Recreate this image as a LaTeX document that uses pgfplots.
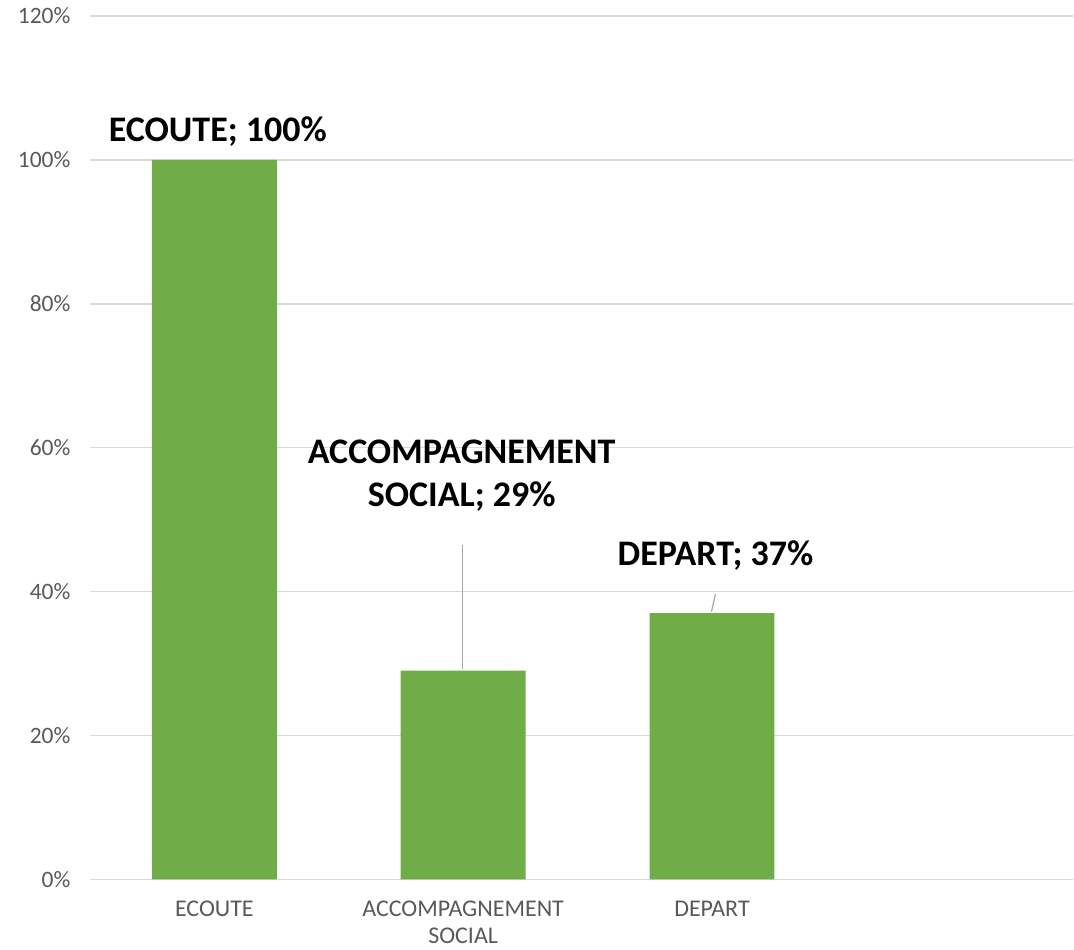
\documentclass[border=0pt]{standalone}
\usepackage{pgfplots}
\pgfplotsset{compat=1.18}
\usepackage{fontspec}
\setmainfont{Carlito}
\definecolor{barg}{HTML}{70AD47}
\definecolor{gridg}{HTML}{D9D9D9}
\definecolor{tickg}{HTML}{595959}
\begin{document}
\begin{tikzpicture}[x=1pt,y=1pt]
\begin{axis}[
  at={(0,0)}, anchor=south west,
  scale only axis, width=984pt, height=864pt,
  xmin=-0.5, xmax=3.452, ymin=0, ymax=120,
  ybar, bar width=125pt,
  axis line style={draw=none},
  axis x line*=bottom,
  x axis line style={draw=gridg, line width=1.5pt},
  ytick={0,20,40,60,80,100,120},
  yticklabels={0\%,20\%,40\%,60\%,80\%,100\%,120\%},
  xtick={0,1,2},
  xticklabels={ECOUTE,{ACCOMPAGNEMENT\\SOCIAL},DEPART},
  major tick length=0pt,
  ymajorgrids, grid style={draw=gridg, line width=1.5pt},
  xticklabel style={font=\fontsize{24}{27}\selectfont, text=tickg, align=center, anchor=north, yshift=-18pt},
  yticklabel style={font=\fontsize{23.5}{28}\selectfont, text=tickg, anchor=east, xshift=-16pt},
  /pgf/number format/assume math mode=true,
  clip=false,
]
\addplot[fill=barg, draw=none] coordinates {(0,100) (1,29) (2,37)};
\draw[draw=gray!70, line width=1.2pt] (axis cs:0.998,46.5) -- (axis cs:0.998,29.2);
\draw[draw=gray!70, line width=1.2pt] (axis cs:2.014,39.7) -- (axis cs:1.998,37.2);
\node[font=\fontsize{36}{43}\selectfont\bfseries, align=center] at (axis cs:0.014,103.9) {ECOUTE; 100\%};
\node[font=\fontsize{36}{43}\selectfont\bfseries, align=center] at (axis cs:0.994,56.1) {ACCOMPAGNEMENT\\SOCIAL; 29\%};
\node[font=\fontsize{36}{43}\selectfont\bfseries, align=center] at (axis cs:2.014,45.0) {DEPART; 37\%};
\end{axis}
\useasboundingbox (-90,-70) rectangle (984,880);
\end{tikzpicture}
\end{document}
